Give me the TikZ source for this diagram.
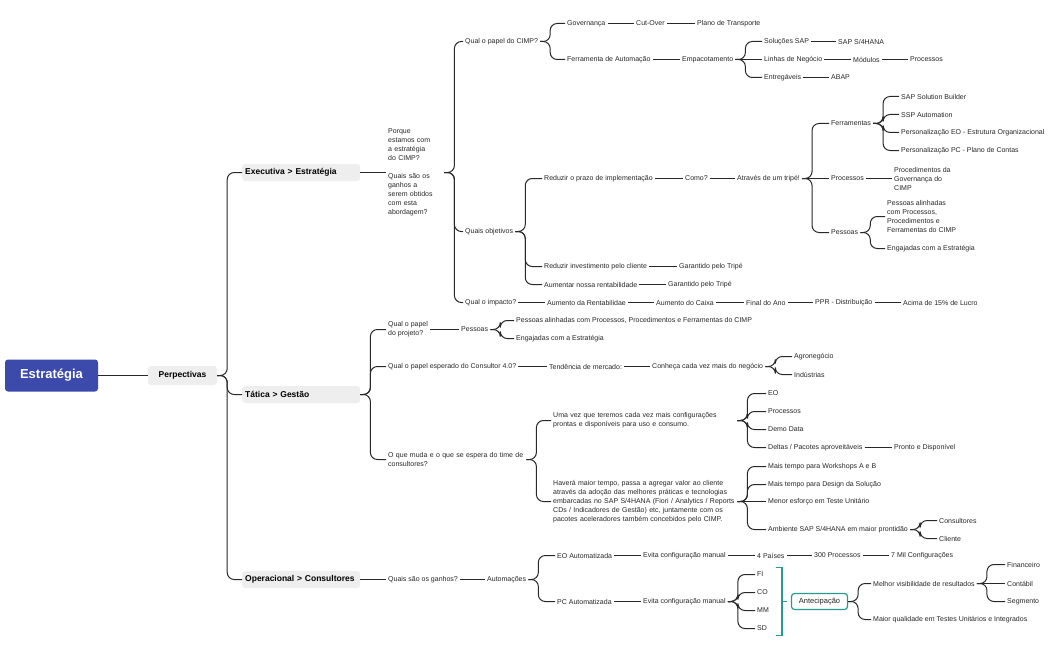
\documentclass[tikz,border=0pt]{standalone}
\usepackage{fontspec}
\usepackage{tikz}
\usepackage{xcolor}
\setmainfont{Liberation Sans}
\definecolor{mapblue}{RGB}{60,74,172}
\definecolor{topicgray}{RGB}{238,238,238}
\definecolor{mapteal}{RGB}{38,154,140}
\definecolor{linkcol}{RGB}{40,40,40}
\definecolor{textcol}{RGB}{38,38,38}
\begin{document}
\begin{tikzpicture}[x=1pt,y=-1pt,%
    link/.style={draw=linkcol,line width=1pt,rounded corners=7pt},%
    leaf/.style={anchor=west,inner sep=2pt,text=textcol,font=\fontsize{7}{9}\selectfont,align=left},%
    topic/.style={anchor=west,fill=topicgray,rounded corners=3pt,inner xsep=3pt,text width=112pt,minimum height=17pt,font=\bfseries\fontsize{8.5}{10}\selectfont}]%
          \useasboundingbox (0,-1.5) rectangle (1051,648.5);%
          \node (root) [fill=mapblue,text=white,rounded corners=3pt,minimum width=93pt,minimum height=32pt,font=\bfseries\fontsize{13}{15}\selectfont] at (51.5,374) {Estratégia};%
          \node (persp) [fill=topicgray,rounded corners=3pt,minimum width=69pt,minimum height=19pt,font=\bfseries\fontsize{8.5}{10}\selectfont] at (182.5,374) {Perpectivas};%
          \node (exec) [topic] at (242,171) {Executiva > Estratégia};%
          \node (tat) [topic] at (242,393) {Tática > Gestão};%
          \node (oper) [topic] at (242,578) {Operacional > Consultores};%
          \draw [link] (root) -- (persp);%
          \draw [link] (persp.east) -- ++(10,0) |- (exec.west);%
          \draw [link] (persp.east) -- ++(10,0) |- (tat.west);%
          \draw [link] (persp.east) -- ++(10,0) |- (oper.west);%
          % executiva
          \node (porque) [leaf,text width=54pt] at (386,171) {Porque\\estamos com\\a estratégia\\do CIMP?\\[9pt]Quais são os\\ganhos a\\serem obtidos\\com esta\\abordagem?};%
          \node (papel) [leaf] at (463,40) {Qual o papel do CIMP?};%
          \node (gov) [leaf] at (565,22) {Governança};%
          \node (cutover) [leaf] at (634,22) {Cut-Over};%
          \node (plano) [leaf] at (695,22) {Plano de Transporte};%
          \node (ferr) [leaf] at (565,58) {Ferramenta de Automação};%
          \node (empac) [leaf] at (680,58) {Empacotamento};%
          \node (solsap) [leaf] at (762,40) {Soluções SAP};%
          \node (s4) [leaf] at (836,40) {SAP S/4HANA};%
          \node (linhas) [leaf] at (762,58) {Linhas de Negócio};%
          \node (modulos) [leaf] at (851,58) {Módulos};%
          \node (procs) [leaf] at (908,58) {Processos};%
          \node (entreg) [leaf] at (762,76) {Entregáveis};%
          \node (abap) [leaf] at (829,76) {ABAP};%
          \node (objet) [leaf] at (463,230) {Quais objetivos};%
          \node (reduzir) [leaf] at (542,177) {Reduzir o prazo de implementação};%
          \node (como) [leaf] at (683,177) {Como?};%
          \node (tripe) [leaf] at (735,177) {Através de um tripé!};%
          \node (ferrs) [leaf] at (829,122) {Ferramentas};%
          \node (sapsb) [leaf] at (899,95) {SAP Solution Builder};%
          \node (ssp) [leaf] at (899,113) {SSP Automation};%
          \node (perseo) [leaf] at (899,131) {Personalização EO - Estrutura Organizacional};%
          \node (perspc) [leaf] at (899,149) {Personalização PC - Plano de Contas};%
          \node (proc) [leaf] at (829,177) {Processos};%
          \node (procgov) [leaf] at (892,177) {Procedimentos da\\Governança do\\CIMP};%
          \node (pess) [leaf] at (829,231) {Pessoas};%
          \node (pessalin) [leaf] at (885,215) {Pessoas alinhadas\\com Processos,\\Procedimentos e\\Ferramentas do CIMP};%
          \node (engaj) [leaf] at (885,247) {Engajadas com a Estratégia};%
          \node (invest) [leaf] at (542,265) {Reduzir investimento pelo cliente};%
          \node (garant1) [leaf] at (677,265) {Garantido pelo Tripé};%
          \node (rentab) [leaf] at (542,283) {Aumentar nossa rentabilidade};%
          \node (garant2) [leaf] at (666,283) {Garantido pelo Tripé};%
          \node (impacto) [leaf] at (463,301) {Qual o impacto?};%
          \node (aumrent) [leaf] at (545,301) {Aumento da Rentabilidae};%
          \node (aumcaixa) [leaf] at (654,301) {Aumento do Caixa};%
          \node (final) [leaf] at (744,301) {Final do Ano};%
          \node (ppr) [leaf] at (813,301) {PPR - Distribuição};%
          \node (acima) [leaf] at (901,301) {Acima de 15\% de Lucro};%
          \draw [link] (exec) -- (porque);%
          \draw [link] (porque.east) -- ++(10,0) |- (papel.west);%
          \draw [link] (porque.east) -- ++(10,0) |- (objet.west);%
          \draw [link] (porque.east) -- ++(10,0) |- (impacto.west);%
          \draw [link] (papel.east) -- ++(10,0) |- (gov.west);%
          \draw [link] (papel.east) -- ++(10,0) |- (ferr.west);%
          \draw [link] (gov) -- (cutover);%
          \draw [link] (cutover) -- (plano);%
          \draw [link] (ferr) -- (empac);%
          \draw [link] (empac.east) -- ++(10,0) |- (solsap.west);%
          \draw [link] (empac) -- (linhas);%
          \draw [link] (empac.east) -- ++(10,0) |- (entreg.west);%
          \draw [link] (solsap) -- (s4);%
          \draw [link] (linhas) -- (modulos);%
          \draw [link] (modulos) -- (procs);%
          \draw [link] (entreg) -- (abap);%
          \draw [link] (objet.east) -- ++(10,0) |- (reduzir.west);%
          \draw [link] (objet.east) -- ++(10,0) |- (invest.west);%
          \draw [link] (objet.east) -- ++(10,0) |- (rentab.west);%
          \draw [link] (reduzir) -- (como);%
          \draw [link] (como) -- (tripe);%
          \draw [link] (tripe.east) -- ++(10,0) |- (ferrs.west);%
          \draw [link] (tripe) -- (proc);%
          \draw [link] (tripe.east) -- ++(10,0) |- (pess.west);%
          \draw [link] (ferrs.east) -- ++(10,0) |- (sapsb.west);%
          \draw [link] (ferrs.east) -- ++(10,0) |- (ssp.west);%
          \draw [link] (ferrs.east) -- ++(10,0) |- (perseo.west);%
          \draw [link] (ferrs.east) -- ++(10,0) |- (perspc.west);%
          \draw [link] (proc) -- (procgov);%
          \draw [link] (pess.east) -- ++(10,0) |- (pessalin.west);%
          \draw [link] (pess.east) -- ++(10,0) |- (engaj.west);%
          \draw [link] (invest) -- (garant1);%
          \draw [link] (rentab) -- (garant2);%
          \draw [link] (impacto) -- (aumrent);%
          \draw [link] (aumrent) -- (aumcaixa);%
          \draw [link] (aumcaixa) -- (final);%
          \draw [link] (final) -- (ppr);%
          \draw [link] (ppr) -- (acima);%
          % tatica
          \node (papelproj) [leaf] at (386,328) {Qual o papel\\do projeto?};%
          \node (pessproj) [leaf] at (459,328) {Pessoas};%
          \node (pessalin2) [leaf] at (514,319) {Pessoas alinhadas com Processos, Procedimentos e Ferramentas do CIMP};%
          \node (engaj2) [leaf] at (514,337) {Engajadas com a Estratégia};%
          \node (consult) [leaf] at (386,365) {Qual o papel esperado do Consultor 4.0?};%
          \node (tend) [leaf] at (547,365) {Tendência de mercado:};%
          \node (conheca) [leaf] at (650,365) {Conheça cada vez mais do negócio};%
          \node (agro) [leaf] at (792,355) {Agronegócio};%
          \node (indus) [leaf] at (792,373) {Indústrias};%
          \node (muda) [leaf,text width=136pt] at (386,458) {O que muda e o que se espera do time de\\consultores?};%
          \node (umavez) [leaf,text width=182pt] at (551,419) {Uma vez que teremos cada vez mais configurações\\prontas e disponíveis para uso e consumo.};%
          \node (eo) [leaf] at (766,392) {EO};%
          \node (procs2) [leaf] at (766,410) {Processos};%
          \node (demo) [leaf] at (766,428) {Demo Data};%
          \node (deltas) [leaf] at (766,446) {Deltas / Pacotes aproveitáveis};%
          \node (pronto) [leaf] at (892,446) {Pronto e Disponível};%
          \node (havera) [leaf,text width=182pt] at (551,500) {Haverá maior tempo, passa a agregar valor ao cliente\\através da adoção das melhores práticas e tecnologias\\embarcadas no SAP S/4HANA (Fiori / Analytics / Reports\\CDs / Indicadores de Gestão) etc, juntamente com os\\pacotes aceleradores também concebidos pelo CIMP.};%
          \node (wkshp) [leaf] at (766,465) {Mais tempo para Workshops A e B};%
          \node (design) [leaf] at (766,483) {Mais tempo para Design da Solução};%
          \node (menor) [leaf] at (766,500) {Menor esforço em Teste Unitário};%
          \node (ambiente) [leaf] at (766,528) {Ambiente SAP S/4HANA em maior prontidão};%
          \node (consultores) [leaf] at (937,519) {Consultores};%
          \node (cliente) [leaf] at (937,537) {Cliente};%
          \draw [link] (tat.east) -- ++(10,0) |- (papelproj.west);%
          \draw [link] (tat.east) -- ++(10,0) |- (consult.west);%
          \draw [link] (tat.east) -- ++(10,0) |- (muda.west);%
          \draw [link] (papelproj) -- (pessproj);%
          \draw [link] (pessproj.east) -- ++(10,0) |- (pessalin2.west);%
          \draw [link] (pessproj.east) -- ++(10,0) |- (engaj2.west);%
          \draw [link] (consult) -- (tend);%
          \draw [link] (tend) -- (conheca);%
          \draw [link] (conheca.east) -- ++(10,0) |- (agro.west);%
          \draw [link] (conheca.east) -- ++(10,0) |- (indus.west);%
          \draw [link] (muda.east) -- ++(10,0) |- (umavez.west);%
          \draw [link] (muda.east) -- ++(10,0) |- (havera.west);%
          \draw [link] (umavez.east) -- ++(10,0) |- (eo.west);%
          \draw [link] (umavez.east) -- ++(10,0) |- (procs2.west);%
          \draw [link] (umavez.east) -- ++(10,0) |- (demo.west);%
          \draw [link] (umavez.east) -- ++(10,0) |- (deltas.west);%
          \draw [link] (deltas) -- (pronto);%
          \draw [link] (havera.east) -- ++(10,0) |- (wkshp.west);%
          \draw [link] (havera.east) -- ++(10,0) |- (design.west);%
          \draw [link] (havera) -- (menor);%
          \draw [link] (havera.east) -- ++(10,0) |- (ambiente.west);%
          \draw [link] (ambiente.east) -- ++(10,0) |- (consultores.west);%
          \draw [link] (ambiente.east) -- ++(10,0) |- (cliente.west);%
          % operacional
          \node (ganhos) [leaf] at (386,578) {Quais são os ganhos?};%
          \node (autom) [leaf] at (485,578) {Automações};%
          \node (eoauto) [leaf] at (555,554) {EO Automatizada};%
          \node (evita1) [leaf] at (641,554) {Evita configuração manual};%
          \node (paises) [leaf] at (755,554) {4 Países};%
          \node (proc300) [leaf] at (812,554) {300 Processos};%
          \node (milconf) [leaf] at (889,554) {7 Mil Configurações};%
          \node (pcauto) [leaf] at (555,600) {PC Automatizada};%
          \node (evita2) [leaf] at (641,600) {Evita configuração manual};%
          \node (fi) [leaf] at (755,573) {FI};%
          \node (co) [leaf] at (755,591) {CO};%
          \node (mm) [leaf] at (755,609) {MM};%
          \node (sd) [leaf] at (755,627) {SD};%
          \node (antecip) [draw=mapteal,line width=1.2pt,rounded corners=3pt,fill=white,text=textcol,minimum width=56pt,minimum height=16pt,font=\fontsize{7.5}{9}\selectfont] at (819.5,600) {Antecipação};%
          \node (melhor) [leaf] at (871,582) {Melhor visibilidade de resultados};%
          \node (financ) [leaf] at (1005,563) {Financeiro};%
          \node (contab) [leaf] at (1005,582) {Contábil};%
          \node (segm) [leaf] at (1005,600) {Segmento};%
          \node (maior) [leaf] at (871,618) {Maior qualidade em Testes Unitários e Integrados};%
          \coordinate (brtop) at (776,566);%
          \coordinate (brmid) at (782,600);%
          \coordinate (brbot) at (776,634);%
          \draw [link] (oper) -- (ganhos);%
          \draw [link] (ganhos) -- (autom);%
          \draw [link] (autom.east) -- ++(10,0) |- (eoauto.west);%
          \draw [link] (autom.east) -- ++(10,0) |- (pcauto.west);%
          \draw [link] (eoauto) -- (evita1);%
          \draw [link] (evita1) -- (paises);%
          \draw [link] (paises) -- (proc300);%
          \draw [link] (proc300) -- (milconf);%
          \draw [link] (pcauto) -- (evita2);%
          \draw [link] (evita2.east) -- ++(10,0) |- (fi.west);%
          \draw [link] (evita2.east) -- ++(10,0) |- (co.west);%
          \draw [link] (evita2.east) -- ++(10,0) |- (mm.west);%
          \draw [link] (evita2.east) -- ++(10,0) |- (sd.west);%
          \draw [draw=mapteal,line width=1.2pt] (brtop) -- (brtop -| brmid) -- (brbot -| brmid) -- (brbot);%
          \draw [draw=mapteal,line width=1.2pt] (brmid) -- ++(5,0);%
          \draw [link] (antecip.east) -- ++(10,0) |- (melhor.west);%
          \draw [link] (antecip.east) -- ++(10,0) |- (maior.west);%
          \draw [link] (melhor.east) -- ++(10,0) |- (financ.west);%
          \draw [link] (melhor) -- (contab);%
          \draw [link] (melhor.east) -- ++(10,0) |- (segm.west);%
        \end{tikzpicture}
\end{document}
